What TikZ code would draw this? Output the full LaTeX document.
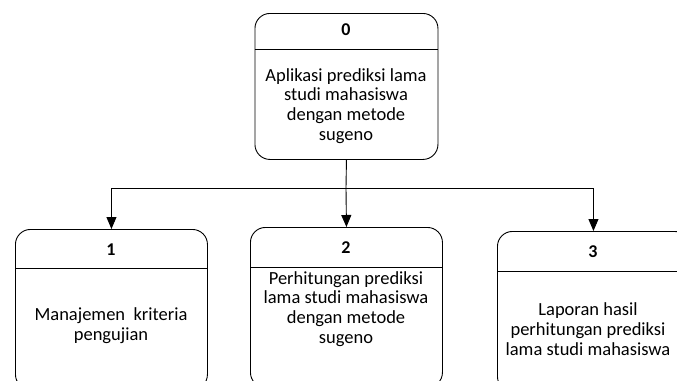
\documentclass[tikz,border=0pt]{standalone}
\usepackage{fontspec}
\setmainfont{Carlito}
\usetikzlibrary{arrows.meta}
\begin{document}
\begin{tikzpicture}[x=1pt,y=-1pt,
  procbox/.style={draw, line width=0.9pt, rounded corners=15pt, anchor=north west,
    minimum width=192pt, minimum height=160pt, inner sep=0pt},
  divider/.style={line width=0.9pt},
  title/.style={font=\fontsize{18}{19}\selectfont\bfseries, inner sep=0pt},
  body/.style={font=\fontsize{18.5}{19.8}\selectfont, align=center, inner sep=0pt},
  conn/.style={line width=0.9pt},
  flow/.style={conn, -{Triangle[length=12pt,width=10pt]}}]
\useasboundingbox (0,0) rectangle (677,380);
\begin{scope}
\clip (0,0) rectangle (677,380);
% top process
\node[procbox, minimum width=183pt, minimum height=146pt] (b0) at (254.5,13) {};
\draw[divider] ([yshift=-36pt]b0.north west) -- ([yshift=-36pt]b0.north east);
\node[title] (t0) at (346,30) {0};
\node[body] (d0) at (346,106) {Aplikasi prediksi lama\\studi mahasiswa\\dengan metode\\sugeno};
% sub processes
\node[procbox] (b1) at (15,229) {};
\draw[divider] ([yshift=-39pt]b1.north west) -- ([yshift=-39pt]b1.north east);
\node[title] (t1) at (111,250) {1};
\node[body] (d1) at (111,326) {Manajemen\ \ kriteria\\pengujian};
\node[procbox] (b2) at (250,227) {};
\draw[divider] ([yshift=-40pt]b2.north west) -- ([yshift=-40pt]b2.north east);
\node[title] (t2) at (346,248) {2};
\node[body] (d2) at (346,309) {Perhitungan prediksi\\lama studi mahasiswa\\dengan metode\\sugeno};
\node[procbox] (b3) at (497,231) {};
\draw[divider] ([yshift=-40pt]b3.north west) -- ([yshift=-40pt]b3.north east);
\node[title] (t3) at (593,252) {3};
\node[body] (d3) at (588,329) {Laporan hasil\\perhitungan prediksi\\lama studi mahasiswa};
% connectors
\coordinate (j) at (346,188);
\draw[conn] (b0.south) -- (j);
\draw[flow] (j) -| (b1.north);
\draw[flow] (j) -- (b2.north);
\draw[flow] (j) -| (b3.north);
\end{scope}
\end{tikzpicture}
\end{document}
